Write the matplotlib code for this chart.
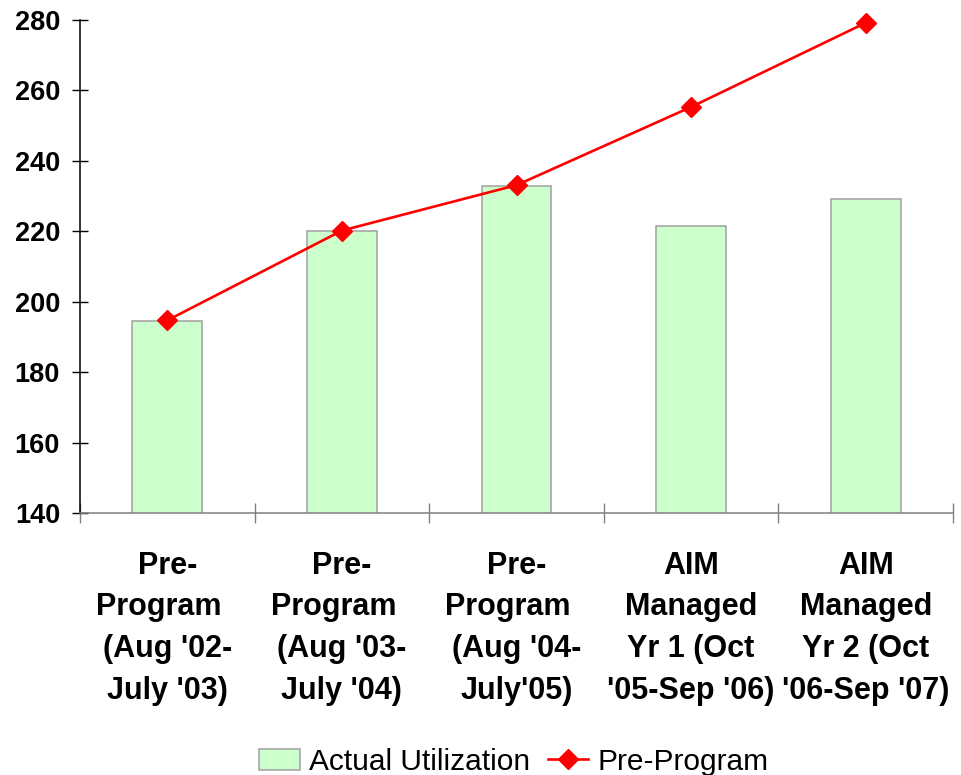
import matplotlib
matplotlib.use("Agg")
import matplotlib.pyplot as plt
import numpy as np

categories = [
    "Pre-\nProgram  \n(Aug '02-\nJuly '03)",
    "Pre-\nProgram  \n(Aug '03-\nJuly '04)",
    "Pre-\nProgram  \n(Aug '04-\nJuly'05)",
    "AIM\nManaged\nYr 1 (Oct\n'05-Sep '06)",
    "AIM\nManaged\nYr 2 (Oct\n'06-Sep '07)",
]
actual_utilization = [194.5, 220, 233, 221.5, 229.2]
pre_program = [194.7, 220.2, 233.1, 255.3, 279.2]
y_ticks = [140, 160, 180, 200, 220, 240, 260, 280]

plt.rcParams['font.family'] = ['Liberation Sans', 'DejaVu Sans']

fig = plt.figure(figsize=(9.61, 7.75), dpi=100)
ax = fig.add_axes([80/961, 1-513/775, 873/961, 493/775])

x = np.arange(len(categories))
bars = ax.bar(x, actual_utilization, width=0.4, color='#CCFFCC', edgecolor='#A0A0A0',
              linewidth=1.1, label='Actual Utilization', zorder=2)
line, = ax.plot(x, pre_program, color='#FF0000', linewidth=1.9, marker='D', markersize=10,
                label='Pre-Program', zorder=3, clip_on=False)

ax.set_xlim(-0.5, len(categories) - 0.5)
ax.set_ylim(140, 280)
ax.set_yticks(y_ticks)
ax.set_yticklabels([str(v) for v in y_ticks], fontsize=19.5, fontweight='bold')
ax.tick_params(axis='y', direction='inout', length=11.5, width=1.0, color='black', pad=8.6)

ax.set_xticks(x)
ax.set_xticklabels(categories, fontsize=22, fontweight='bold', linespacing=1.52,
                   ha='center', multialignment='center')
ax.tick_params(axis='x', which='major', length=0, pad=27)
ax.set_xticks(np.arange(-0.5, len(categories)), minor=True)
ax.tick_params(axis='x', which='minor', direction='inout', length=15, width=1.0, color='#808080')

for s in ['top', 'right']:
    ax.spines[s].set_visible(False)
ax.spines['left'].set_color('black')
ax.spines['left'].set_linewidth(1.1)
ax.spines['bottom'].set_color('#808080')
ax.spines['bottom'].set_linewidth(1.1)
ax.spines['bottom'].set_zorder(4)

fig.legend([bars, line], ['Actual Utilization', 'Pre-Program'],
           loc='center', bbox_to_anchor=(514/961, 1-762/775), ncol=2, frameon=False,
           fontsize=21.5, handlelength=1.35, handleheight=0.73, handletextpad=0.33,
           columnspacing=0.57, borderpad=0, borderaxespad=0)

fig.savefig('out.png', dpi=100)
